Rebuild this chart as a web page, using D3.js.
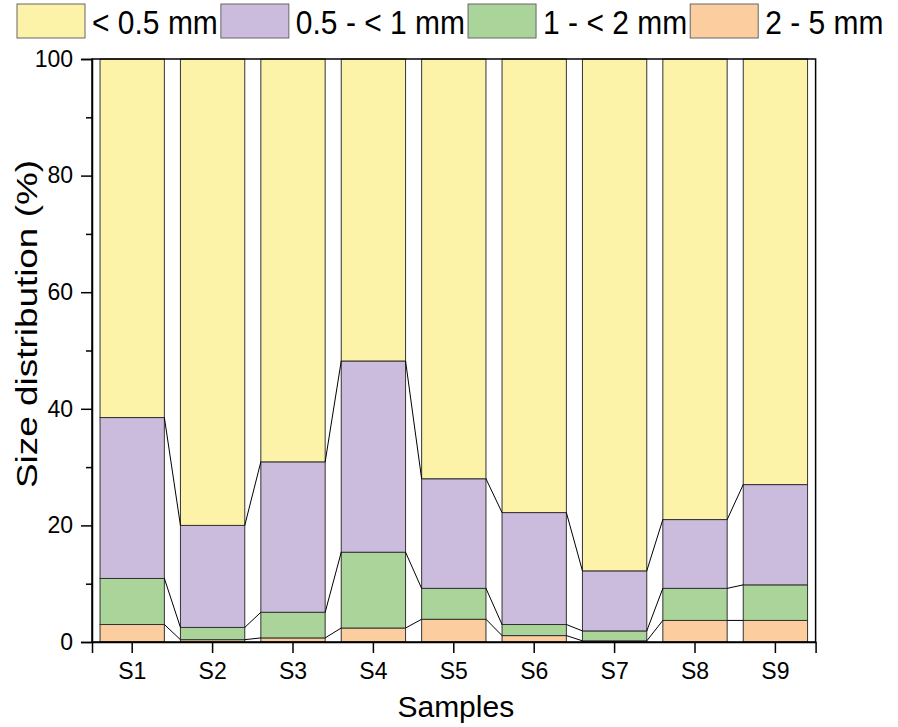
<!DOCTYPE html>
<html><head><meta charset="utf-8">
<script src="https://cdn.jsdelivr.net/npm/d3@7"></script>
<style>body{margin:0;background:#fff}svg{display:block;font-family:"Liberation Sans",Arial,sans-serif}</style>
</head><body>
<svg id="c" width="898" height="727"></svg>
<script>
const samples = ["S1","S2","S3","S4","S5","S6","S7","S8","S9"];
const seriesNames = ["2 - 5 mm","1 - < 2 mm","0.5 - < 1 mm","< 0.5 mm"];
const s2to5   = [3.0, 0.4, 0.7, 2.4, 3.9, 1.1, 0.2, 3.7, 3.7];
const s1to2   = [7.9, 2.1, 4.4, 13.0, 5.3, 1.9, 1.7, 5.5, 6.1];
const s05to1  = [27.6, 17.5, 25.8, 32.8, 18.8, 19.2, 10.3, 11.8, 17.2];
const sLt05   = [61.5, 80.0, 69.1, 51.8, 72.0, 77.8, 87.8, 79.0, 73.0];
const yTicks  = [0, 20, 40, 60, 80, 100];
const yMinor  = [10, 30, 50, 70, 90];
const colors  = ["#FCCD9E", "#ABD49B", "#CBBBDD", "#FCF2A8"];
const legendOrder = [3, 2, 1, 0];

const svg = d3.select("#c");
const L = 92, R = 815.6, T = 59, B = 642;
const x = d3.scaleBand().domain(samples).range([L, R]).paddingInner(0.2).paddingOuter(0.1);
const y = d3.scaleLinear().domain([0, 100]).range([B, T]);

const rows = samples.map((s, i) => ({sample: s, k0: s2to5[i], k1: s1to2[i], k2: s05to1[i], k3: sLt05[i]}));
const stack = d3.stack().keys(["k0","k1","k2","k3"])(rows);

// bars
stack.forEach((layer, li) => {
  svg.append("g").selectAll("rect").data(layer).join("rect")
    .attr("x", d => x(d.data.sample))
    .attr("y", d => y(d[1]))
    .attr("width", x.bandwidth())
    .attr("height", d => y(d[0]) - y(d[1]))
    .attr("fill", colors[li])
    .attr("stroke", "#333")
    .attr("stroke-width", 1);
});

// connecting lines
stack.slice(0, 3).forEach(layer => {
  const segs = d3.pairs(layer);
  svg.append("g").selectAll("line").data(segs).join("line")
    .attr("x1", d => x(d[0].data.sample) + x.bandwidth())
    .attr("y1", d => y(d[0][1]))
    .attr("x2", d => x(d[1].data.sample))
    .attr("y2", d => y(d[1][1]))
    .attr("stroke", "#000").attr("stroke-width", 1);
});

// frame
svg.append("rect").attr("x", L).attr("y", T).attr("width", R - L).attr("height", B - T)
  .attr("fill", "none").attr("stroke", "#000").attr("stroke-width", 1.5);

// axes
svg.append("g").attr("transform", `translate(${L},0)`)
  .call(d3.axisLeft(y).tickValues(yTicks).tickSize(11).tickPadding(8).tickFormat(d3.format("d")));
svg.append("g").attr("transform", `translate(${L},0)`)
  .call(d3.axisLeft(y).tickValues(yMinor).tickSize(6).tickFormat(""))
  .call(g => g.select(".domain").remove());
svg.append("g").attr("transform", `translate(0,${B})`)
  .call(d3.axisBottom(x).tickSize(11).tickPadding(10));
svg.selectAll(".domain").attr("stroke-width", 1.5);
svg.selectAll(".tick line").attr("stroke-width", 1.5);
svg.selectAll(".tick text").attr("font-size", 23).attr("font-family", "Liberation Sans, Arial, sans-serif").attr("fill", "#000");

// axis titles
svg.append("text").attr("x", (L + R) / 2 + 2).attr("y", 717).attr("text-anchor", "middle")
  .attr("font-size", 30).text("Samples");
svg.append("text").attr("transform", `translate(37,324) rotate(-90)`).attr("text-anchor", "middle")
  .attr("font-size", 30).attr("textLength", 328).attr("lengthAdjust", "spacingAndGlyphs")
  .text("Size distribution (%)");

// legend
let lx = 17;
legendOrder.forEach(si => {
  svg.append("rect").attr("x", lx).attr("y", 4).attr("width", 68).attr("height", 34)
    .attr("fill", colors[si]).attr("stroke", "#666").attr("stroke-width", 1);
  const t = svg.append("text").attr("transform", `translate(${lx + 75},34) scale(1,1.12)`)
    .attr("font-size", 30).text(seriesNames[si]);
  lx = lx + 75 + t.node().getComputedTextLength() + 3;
});
</script>
</body></html>
